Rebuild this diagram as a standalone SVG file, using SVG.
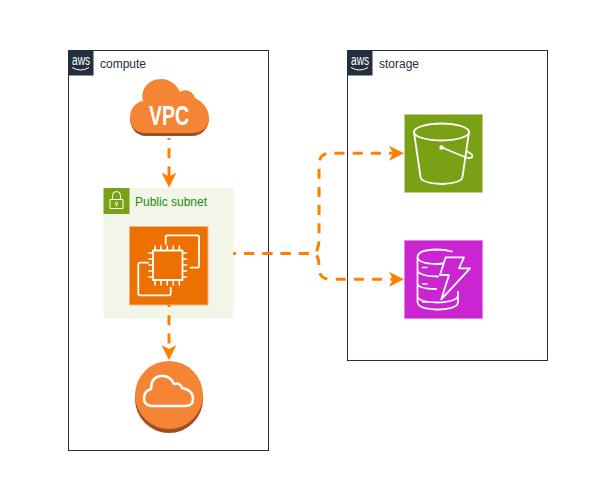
<svg xmlns="http://www.w3.org/2000/svg" width="603" height="496" viewBox="0 0 603 496">
<defs>
<style>
.box{fill:#fff;stroke:#232f3e;stroke-width:1}
.lbl{font-family:"Liberation Sans",Arial,sans-serif;font-size:12px;fill:#232f3e}
.aws{font-family:"Liberation Sans",Arial,sans-serif;font-size:14px;fill:#fff;text-anchor:middle}
.edge{fill:none;stroke:#ff8000;stroke-width:3;stroke-dasharray:10 8.200}
.icon{fill:none;stroke:#fff;stroke-width:1.800;stroke-linejoin:round;stroke-linecap:round}
.thin{fill:none;stroke:#fff;stroke-width:1.500;stroke-linejoin:round;stroke-linecap:round}
.lock{fill:none;stroke:#fff;stroke-width:1;stroke-linejoin:round}
</style>
<marker id="arr" markerUnits="userSpaceOnUse" markerWidth="16" markerHeight="16" refX="9" refY="8" orient="auto">
<path d="M0 0.500 L15 8 L0 15.500 L4 8 Z" fill="#ff8000"/>
</marker>
<g id="awslogo">
<rect width="25" height="25" fill="#232f3e"/>
<text class="aws" x="12.500" y="14.500" textLength="18" lengthAdjust="spacingAndGlyphs">aws</text>
<path d="M3.500 17 Q12 22 20.500 17" fill="none" stroke="#fff" stroke-width="1"/>
</g>
</defs>
<rect width="603" height="496" fill="#fff"/>
<g id="compute">
<rect class="box" x="68.500" y="50.500" width="200" height="400"/>
<use href="#awslogo" x="68.500" y="50.500"/>
<text class="lbl" x="100" y="68">compute</text>
</g>
<g id="storage">
<rect class="box" x="347.500" y="50.500" width="200" height="310"/>
<use href="#awslogo" x="347.500" y="50.500"/>
<text class="lbl" x="379" y="68">storage</text>
</g>
<g id="public-subnet">
<rect x="103.500" y="188" width="130" height="130.500" fill="#f2f6e8"/>
<rect x="103.500" y="188" width="26" height="26" fill="#7aa116"/>
<rect class="lock" x="110" y="199.500" width="13" height="9"/>
<path class="lock" d="M112.500 199.500 V195.500 Q112.500 191.500 116.500 191.500 Q120.500 191.500 120.500 195.500 V199.500"/>
<circle class="lock" cx="116.500" cy="203.500" r="1.200"/>
<path class="lock" d="M116.500 204.700 V206.500"/>
<text x="135" y="206" font-family="'Liberation Sans',Arial,sans-serif" font-size="12" fill="#248814">Public subnet</text>
</g>
<g id="vpc">
<path id="vpc-shadow" d="M146 136 C136 136 130 128 130 118 L209 118 C209 128 202 136 192 136 Z" fill="#9d5025"/>
<path d="M146 133 C136 133 130 127 130 118 C130 108 136 102 143 101 C140 90 148 79 161 79 C170 79 177 85 180 92 C186 88 193 91 195 98 C203 102 209 109 209 118 C209 127 202 133 192 133 Z" fill="#f58534"/>
<text x="169" y="125" font-family="'Liberation Sans',Arial,sans-serif" font-size="28" font-weight="bold" fill="#fff" text-anchor="middle" textLength="40" lengthAdjust="spacingAndGlyphs">VPC</text>
</g>
<g id="ec2">
<rect x="129.500" y="226.500" width="78.500" height="78.500" fill="#ed7100" stroke="#f5b183" stroke-width="1"/>
<rect class="icon" x="153" y="250.500" width="29.500" height="29.500"/>
<path class="icon" d="M165.700 244 V237 Q165.700 235.300 167.500 235.300 H197.200 Q199 235.300 199 237 V266 Q199 267.700 197.200 267.700 H190.700"/>
<path class="icon" d="M148.300 262.700 H140 Q138.300 262.700 138.300 264.500 V293.500 Q138.300 295.300 140 295.300 H169 Q170.700 295.300 170.700 293.500 V287.700"/>
<path class="thin" d="M155 246 V250 M161 246 V250 M167.300 246 V250 M173.300 246 V250 M179.300 246 V250 M155 280 V285 M161 280 V285 M167.300 280 V285 M173.300 280 V285 M179.300 280 V285 M149 253 H153 M149 259 H153 M149 265 H153 M149 271 H153 M149 277 H153 M182.500 253 H186.500 M182.500 259 H186.500 M182.500 265 H186.500 M182.500 271 H186.500 M182.500 277 H186.500"/>
</g>
<g id="gateway">
<circle cx="169" cy="399" r="34" fill="#9d5025"/>
<circle cx="169" cy="395" r="34" fill="#f58534"/>
<path d="M151 406 Q144 405 144 398 Q144 391 151 389 Q151 377 161 376 Q170 375 174 384 Q180 382 182 388 Q193 390 193 399 Q193 406 185 406 Z" fill="none" stroke="#fff" stroke-width="2.500" stroke-linejoin="round"/>
</g>
<g id="s3">
<rect x="404.500" y="114.500" width="78" height="78" fill="#7aa116" stroke="#bcd08a" stroke-width="1"/>
<ellipse class="icon" cx="441.500" cy="132" rx="27.500" ry="8.500"/>
<path class="icon" d="M414 132 L420.500 177 Q421 183 441.500 184 Q462 183 462.500 177 L469 132"/>
<path class="icon" d="M442 147.500 L466 157.500 Q472 159 472.500 156 Q472.500 154 467 151.500"/>
<circle cx="441.500" cy="147.500" r="2.200" fill="#fff"/>
</g>
<g id="dynamodb">
<rect x="404.500" y="240.500" width="78" height="78" fill="#c925d1" stroke="#e285e7" stroke-width="1"/>
<path class="icon" d="M452 251.500 Q445 249.500 436 249.500 Q418 250 417.500 257 V270 Q418 276 438 276.500 M417.500 257 Q418 263.500 436 264 Q440 264 443 263.500 M417.500 270 V283 Q418 289 436 289 M417.500 283 V302 Q418 309 437 309.500 Q458 309 458 302 V292 M417.500 296 Q418 302 437 302.500 Q456 302 458 296"/>
<path class="thin" d="M422.500 267.500 H427 M422.500 284 H427 M422.500 302 H427"/>
<path class="icon" d="M445.700 257.300 H464 L459 268.300 H470 L441.300 299.300 L449 275 H440 Z"/>
</g>
<g id="connectors">
<path class="edge" d="M169 138 V181.600" stroke-dashoffset="8" marker-end="url(#arr)"/>
<path class="edge" d="M169 305 V354" stroke-dashoffset="8" marker-end="url(#arr)"/>
<path class="edge" d="M233.500 253.500 H310 Q316 253.500 317 250 Q319 245 319 240 V165 Q319 153 331 153.300 H398" stroke-dashoffset="7.500" marker-end="url(#arr)"/>
<path class="edge" d="M233.500 253.500 H310 Q316 253.500 317 256 Q319 260 319 266 V268 Q319 279.300 331 279.300 H398" stroke-dashoffset="7.500" marker-end="url(#arr)"/>
</g>
</svg>
